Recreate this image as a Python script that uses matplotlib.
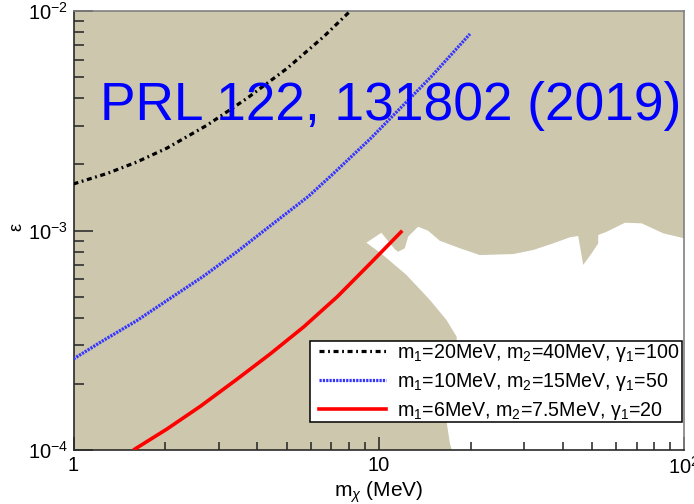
import matplotlib
matplotlib.use("Agg")
import matplotlib.pyplot as plt
from matplotlib.lines import Line2D
from matplotlib.patches import Rectangle
from matplotlib.ticker import FixedLocator, NullFormatter

plt.rcParams['font.family'] = ['Liberation Sans', 'DejaVu Sans']
plt.rcParams['mathtext.fontset'] = 'custom'
plt.rcParams['mathtext.rm'] = 'Liberation Sans'
plt.rcParams['mathtext.it'] = 'Liberation Sans:italic'
plt.rcParams['mathtext.bf'] = 'Liberation Sans:bold'
plt.rcParams['lines.scale_dashes'] = False

# Sensitivity curves: mixing epsilon versus dark-matter mass m_chi (MeV)
black_x = [1.0, 1.29, 1.61, 2.02, 2.74, 3.70, 5.01, 6.60, 7.88, 8.07]
black_y = [1.63e-3, 1.82e-3, 2.05e-3, 2.37e-3, 3.02e-3, 4.0e-3, 5.48e-3, 7.64e-3, 9.69e-3, 1.0e-2]

blue_x = [1.0, 1.25, 1.61, 2.07, 2.67, 3.43, 4.41, 5.88, 7.05, 9.39, 14.79, 19.9]
blue_y = [2.60e-4, 3.15e-4, 3.88e-4, 4.90e-4, 6.20e-4, 8.0e-4, 1.05e-3, 1.43e-3, 1.80e-3, 2.62e-3, 4.99e-3, 7.86e-3]

red_x = [1.571, 2.022, 2.601, 3.43, 4.41, 5.68, 7.31, 9.39, 11.94]
red_y = [1.0e-4, 1.245e-4, 1.58e-4, 2.10e-4, 2.74e-4, 3.64e-4, 4.99e-4, 7.09e-4, 9.98e-4]

# Boundary of the allowed (unshaded) region
open_x = [17.35, 17.09, 16.71, 17.6, 18.1, 18.0, 16.67, 14.7, 12.33, 10.33, 9.11, 10.2,
          11.29, 11.57, 12.17, 12.48, 13.45, 14.51, 15.85, 18.44, 21.43, 27.56, 32.06,
          37.28, 42.29, 45.02, 46.75, 49.83, 52.36, 52.36, 55.8, 64.07, 72.67, 85.5,
          100.0, 100.0]
open_y = [1.0e-4, 1.076e-4, 1.33e-4, 1.8e-4, 2.5e-4, 3.28e-4, 3.91e-4, 4.83e-4, 6.27e-4,
          7.73e-4, 8.8e-4, 9.77e-4, 8.21e-4, 8.0e-4, 8.3e-4, 9.37e-4, 1.04e-3, 9.98e-4,
          8.98e-4, 8.3e-4, 7.73e-4, 7.81e-4, 8.15e-4, 8.74e-4, 9.31e-4, 9.44e-4, 6.97e-4,
          7.87e-4, 8.74e-4, 9.54e-4, 9.87e-4, 1.085e-3, 1.078e-3, 9.71e-4, 9.22e-4, 1.0e-4]

labels = [r"m$_{1}$=20MeV, m$_{2}$=40MeV, γ$_{1}$=100",
          r"m$_{1}$=10MeV, m$_{2}$=15MeV, γ$_{1}$=50",
          r"m$_{1}$=6MeV, m$_{2}$=7.5MeV, γ$_{1}$=20"]

x_ticks = [1, 10, 100]
x_ticklabels = ["1", "10", "10$^{2}$"]
y_ticks = [1e-4, 1e-3, 1e-2]
y_ticklabels = ["10$^{-4}$", "10$^{-3}$", "10$^{-2}$"]

W, H = 694, 504
fig = plt.figure(figsize=(W / 100, H / 100), dpi=100)
ax_l, ax_r, ax_t, ax_b = 73.5, 684.0, 11.0, 450.0
ax_w, ax_h = ax_r - ax_l, ax_b - ax_t
ax = fig.add_axes([ax_l / W, 1 - ax_b / H, ax_w / W, ax_h / H])
ax.set_facecolor('#CCC7AD')
ax.set_xscale('log')
ax.set_yscale('log')
ax.set_xlim(1, 100)
ax.set_ylim(1e-4, 1e-2)


def axes_frac(px, py):
    """Pixel position (from top-left of the figure) -> axes fraction."""
    return (px - ax_l) / ax_w, (ax_b - py) / ax_h


ax.fill(open_x, open_y, color='white', lw=0, zorder=1)

black_style = dict(color='black', lw=2.3, dashes=(3.6, 2.6, 1.3, 2.6))
blue_style = dict(color='#3535FF', lw=2.3, dashes=(1.6, 0.8))
red_style = dict(color='#FF0000', lw=2.6)

ax.plot(black_x, black_y, zorder=3, solid_joinstyle='round', dash_joinstyle='round',
        **black_style)
ax.plot(blue_x, blue_y, zorder=3, solid_joinstyle='round', dash_joinstyle='round',
        **blue_style)
ax.plot(red_x, red_y, zorder=3, solid_capstyle='butt', solid_joinstyle='round',
        **red_style)

ax.xaxis.set_major_locator(FixedLocator(x_ticks))
ax.set_xticklabels(x_ticklabels)
ax.xaxis.set_minor_locator(FixedLocator([m * d for d in (1, 10) for m in range(2, 10)]))
ax.xaxis.set_minor_formatter(NullFormatter())
ax.yaxis.set_major_locator(FixedLocator(y_ticks))
ax.set_yticklabels(y_ticklabels)
ax.yaxis.set_minor_locator(FixedLocator([m * d for d in (1e-4, 1e-3) for m in range(2, 10)]))
ax.yaxis.set_minor_formatter(NullFormatter())

ax.tick_params(axis='both', which='both', direction='in', color='#222222', width=1.1,
               labelsize=14.5, pad=4)
ax.tick_params(axis='x', which='major', length=9.4)
ax.tick_params(axis='x', which='minor', length=5.8)
ax.tick_params(axis='y', which='major', length=13.7)
ax.tick_params(axis='y', which='minor', length=7.2)

for side in ('left', 'bottom'):
    ax.spines[side].set_color('#2a2a2a')
    ax.spines[side].set_linewidth(1.2)
for side in ('top', 'right'):
    ax.spines[side].set_color('#808080')
    ax.spines[side].set_linewidth(1.2)

ax.set_xlabel(r"m$_{\chi}$ (MeV)", fontsize=15, va='top')
ax.xaxis.set_label_coords(0.5, axes_frac(0, 479)[1])
fig.text(16.5 / W, 1 - 227 / H, "ε", rotation=90, fontsize=13, ha='center', va='center')

# Legend box with a tight frame
fx0, fy0 = axes_frac(310, 422)
fx1, fy1 = axes_frac(682, 341)
ax.add_patch(Rectangle((fx0, fy0), fx1 - fx0, fy1 - fy0, transform=ax.transAxes,
                       facecolor='white', edgecolor='black', lw=1.1, zorder=4,
                       clip_on=False))
handles = [Line2D([], [], **black_style), Line2D([], [], **blue_style),
           Line2D([], [], **red_style)]
leg = ax.legend(handles, labels, loc='upper left', bbox_to_anchor=axes_frac(319, 342),
                fontsize=14.1, frameon=False, borderaxespad=0, borderpad=0,
                handlelength=3.4, handletextpad=0.6, labelspacing=0.36)
leg.set_zorder(5)

fig.text(100 / W, 1 - 120 / H, "PRL 122, 131802 (2019)", color='#0000FF',
         fontsize=38.3, ha='left', va='baseline', zorder=10)

fig.savefig("out.png", dpi=100)
